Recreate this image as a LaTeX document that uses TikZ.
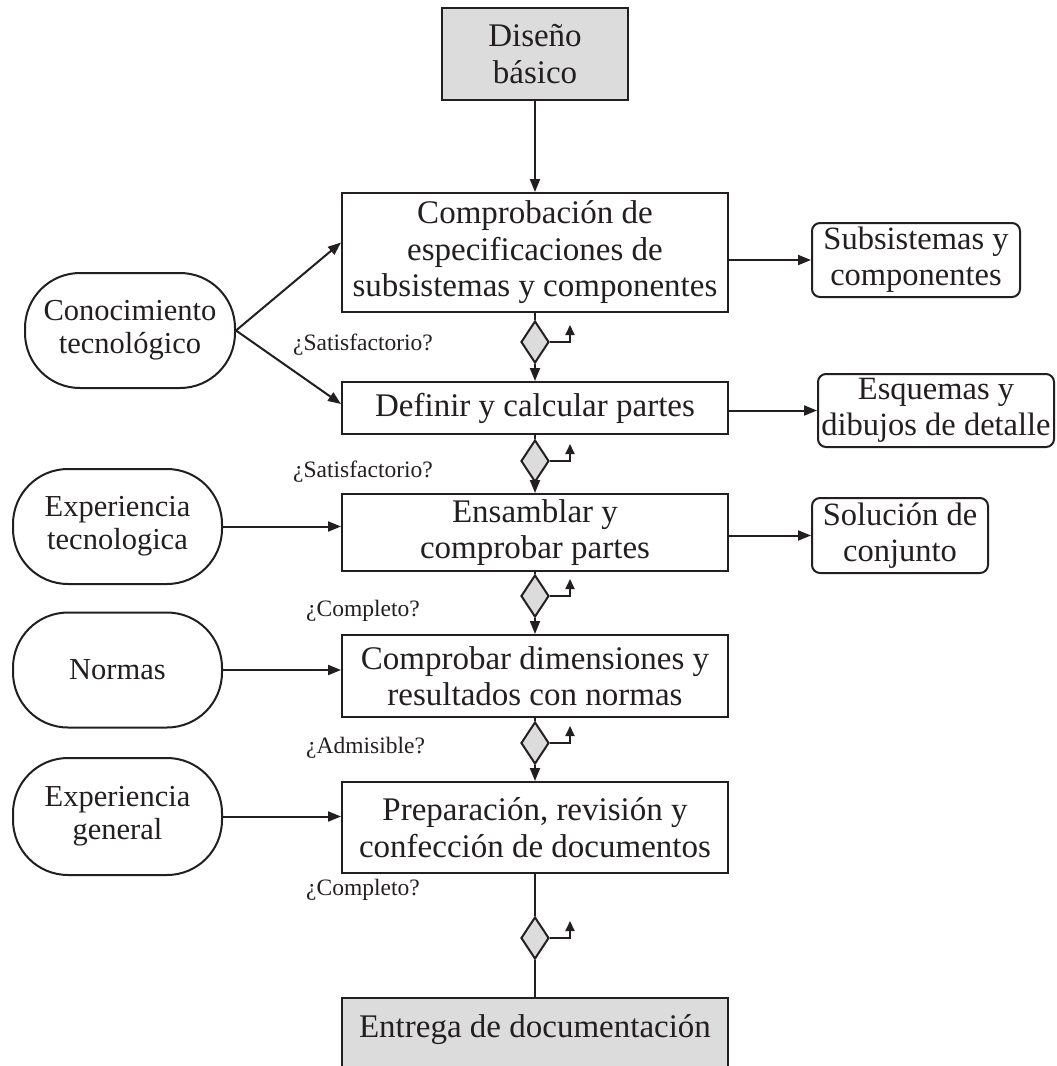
\documentclass[tikz,border=0pt]{standalone}
\usepackage{fontspec}
\setmainfont{Liberation Serif}
\usetikzlibrary{arrows.meta,shapes.geometric,calc}
\definecolor{ink}{HTML}{231F20}
\definecolor{boxgray}{HTML}{DCDCDC}
\begin{document}
\begin{tikzpicture}[x=1pt,y=-1pt,
  every node/.style={text=ink},
  mainbox/.style={draw=ink, line width=2pt, rectangle, minimum width=386pt, align=center, font=\fontsize{33}{36.5}\selectfont, inner sep=0pt},
  graybox/.style={mainbox, fill=boxgray},
  sidebox/.style={draw=ink, line width=2pt, rectangle, rounded corners=8pt, align=center, font=\fontsize{32.5}{36}\selectfont, inner sep=0pt},
  srcbox/.style={draw=ink, line width=2pt, rectangle, rounded corners=55pt, minimum width=209pt, minimum height=115pt, align=center, font=\fontsize{30.5}{33}\selectfont, inner sep=0pt},
  dec/.style={draw=ink, line width=2pt, diamond, fill=boxgray, minimum width=28pt, minimum height=42pt, inner sep=0pt},
  qlabel/.style={font=\fontsize{23.5}{26}\selectfont, anchor=west, inner sep=0pt},
  arr/.style={draw=ink, line width=2pt, -{Triangle[length=13pt,width=10pt]}},
  sarr/.style={draw=ink, line width=2pt, -{Triangle[length=10pt,width=9pt]}},
  ln/.style={draw=ink, line width=2pt}
]
\useasboundingbox (0,0) rectangle (1057,1066);
\fill[white] (0,0) rectangle (1057,1066);

% main column
\node[graybox, minimum width=186pt, minimum height=92pt] (top) at (535,54) {Diseño\\básico};
\node[mainbox, minimum height=119pt] (b1) at (535,252.5) {Comprobación de\\especificaciones de\\subsistemas y componentes};
\node[mainbox, minimum height=52pt] (b2) at (535,408) {Definir y calcular partes};
\node[mainbox, minimum height=77pt] (b3) at (535,532.5) {Ensamblar y\\comprobar partes};
\node[mainbox, minimum height=82pt] (b4) at (535,676) {Comprobar dimensiones y\\resultados con normas};
\node[mainbox, minimum height=91pt] (b5) at (535,827.5) {Preparación, revisión y\\confección de documentos};
\node[graybox, minimum height=80pt, anchor=north] (bot) at (535,997) {};
\node[font=\fontsize{33}{36.5}\selectfont, inner sep=0pt] (bottxt) at (535,1030) {Entrega de documentación};

% decisions
\node[dec] (d1) at (535,342) {};
\node[dec] (d2) at (535,461) {};
\node[dec] (d3) at (535,596) {};
\node[dec] (d4) at (535,743) {};
\node[dec] (d5) at (535,938) {};

\node[qlabel] (q1) at (293,345) {¿Satisfactorio?};
\node[qlabel] (q2) at (293,472) {¿Satisfactorio?};
\node[qlabel] (q3) at (306,611) {¿Completo?};
\node[qlabel] (q4) at (306,748) {¿Admisible?};
\node[qlabel] (q5) at (306,890) {¿Completo?};

% vertical connectors
\draw[arr] (top) -- (b1);
\draw[ln] (b1) -- (d1);
\draw[arr] (d1) -- (b2);
\draw[ln] (b2) -- (d2);
\draw[arr] (d2) -- (b3);
\draw[ln] (b3) -- (d3);
\draw[arr] (d3) -- (b4);
\draw[ln] (b4) -- (d4);
\draw[arr] (d4) -- (b5);
\draw[ln] (b5) -- (d5);
\draw[ln] (d5) -- (bot);

\foreach \d in {d1,d2,d3,d4,d5}
  \draw[sarr] (\d.east) -| ++(20,-17);

% left inputs
\node[srcbox, minimum width=210pt] (c1) at (130,330.5) {Conocimiento\\tecnológico};
\node[srcbox] (c2) at (117.5,526.5) {Experiencia\\tecnologica};
\node[srcbox] (c3) at (117.5,670) {Normas};
\node[srcbox, minimum height=117pt] (c4) at (117.5,816.5) {Experiencia\\general};

\draw[arr] (c1.east) -- ($(b1.west)+(0,-10)$);
\draw[arr] (c1.east) -- ($(b2.west)+(0,-4)$);
\draw[arr] (c2.east) -- (c2.east -| b3.west);
\draw[arr] (c3.east) -- (c3.east -| b4.west);
\draw[arr] (c4.east) -- (c4.east -| b5.west);

% right outputs
\node[sidebox, minimum width=208pt, minimum height=74pt] (r1) at (916,260) {Subsistemas y\\componentes};
\node[sidebox, minimum width=236pt, minimum height=73pt] (r2) at (936,410.5) {Esquemas y\\dibujos de detalle};
\node[sidebox, minimum width=176pt, minimum height=75pt] (r3) at (900,535.5) {Solución de\\conjunto};

\draw[arr] (b1.east |- r1.west) -- (r1.west);
\draw[arr] (r2.west -| b2.east) -- (r2.west);
\draw[arr] (r3.west -| b3.east) -- (r3.west);
\end{tikzpicture}
\end{document}
